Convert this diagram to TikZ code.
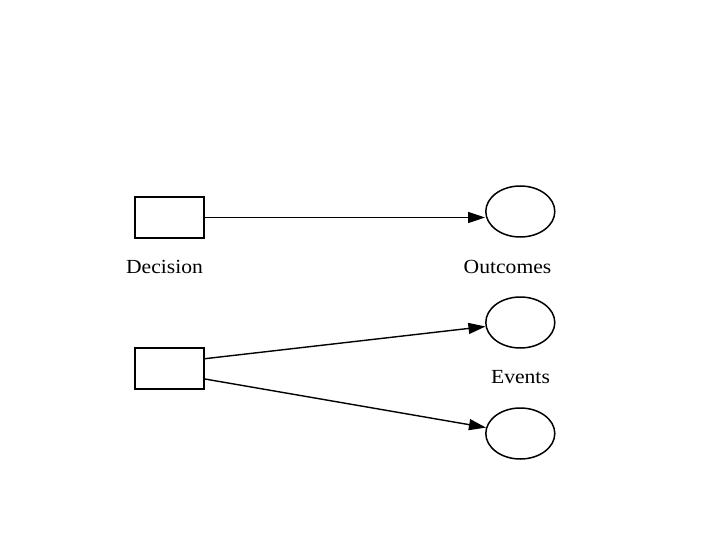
\documentclass[tikz,border=0pt]{standalone}
\usepackage{fontspec}
\setmainfont[FakeStretch=1.08]{Liberation Serif}
\usetikzlibrary{shapes.geometric,arrows.meta}
\begin{document}
\begin{tikzpicture}[x=1pt,y=-1pt,
  dbox/.style={draw,line width=1.8pt,minimum width=69pt,minimum height=41pt,inner sep=0pt},
  chance/.style={draw,ellipse,line width=1.5pt,minimum width=69pt,minimum height=51pt,inner sep=0pt},
  lbl/.style={inner sep=0pt,font=\fontsize{20}{24}\selectfont},
  conn/.style={line width=1.4pt,-{Triangle[length=17pt,width=11pt]}}]
\useasboundingbox (0,0) rectangle (720,540);
\node[dbox] (b1) at (169.5,217.5) {};
\node[dbox] (b2) at (169.5,368.5) {};
\node[chance] (e1) at (520.3,211.5) {};
\node[chance] (e2) at (520.3,322.5) {};
\node[chance] (e3) at (520.3,433.5) {};
\node[lbl] (t1) at (164.5,267) {Decision};
\node[lbl] (t2) at (507.5,266.5) {Outcomes};
\node[lbl] (t3) at (520.5,377) {Events};
\coordinate (s1) at ([yshift=9.8pt]b2.east);
\coordinate (s2) at ([yshift=-10.5pt]b2.east);
\draw[conn] (b1.east) -- (b1.east -| e1.west);
\draw[conn] (s1) -- (e2);
\draw[conn] (s2) -- (e3);
\end{tikzpicture}
\end{document}
